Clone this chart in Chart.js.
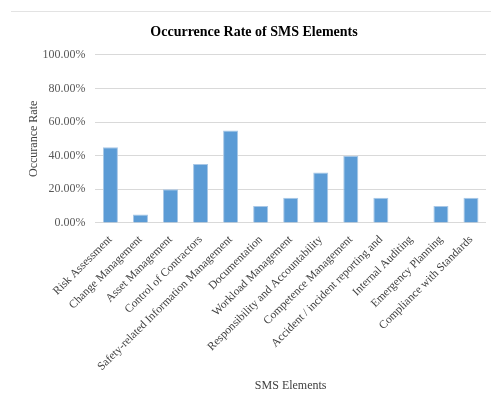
<!DOCTYPE html>
<html lang="en">
<head>
  <meta charset="UTF-8">
  <title>Occurrence Rate of SMS Elements</title>
  <script src="https://cdn.jsdelivr.net/npm/chart.js"></script>
  <style>
    body {
      margin: 0;
      padding: 0;
      background: #fff;
    }
    .wrap {
      position: relative;
      width: 491px;
      height: 397px;
    }
    /* faint rule across the top of the frame */
    .top-rule {
      position: absolute;
      top: 11px;
      left: 11px;
      width: 480px;
      height: 1px;
      background: #e3e3e3;
    }
    #smsChart {
      position: absolute;
      top: 0;
      left: 0;
    }
  </style>
</head>
<body>
  <div class="wrap">
    <div class="top-rule"></div>
    <canvas id="smsChart" width="491" height="397"></canvas>
  </div>

  <script>
    const elements = [
      'Risk Assessment',
      'Change Management',
      'Asset Management',
      'Control of Contractors',
      'Safety-related Information Management',
      'Documentation',
      'Workload Management',
      'Responsibility and Accountability',
      'Competence Management',
      'Accident / incident reporting and',
      'Internal Auditing',
      'Emergency Planning',
      'Compliance with Standards'
    ];
    // occurrence rate in percent
    const rates = [45, 5, 20, 35, 55, 10, 15, 30, 40, 15, 0, 10, 15];
    const yTicks = [0, 20, 40, 60, 80, 100];

    const serif = 'Liberation Serif, Times New Roman, serif';

    const ctx = document.getElementById('smsChart').getContext('2d');
    new Chart(ctx, {
      type: 'bar',
      data: {
        labels: elements,
        datasets: [{
          label: 'Occurance Rate',
          data: rates,
          backgroundColor: '#5b9bd5',
          borderColor: '#a8c7e6',
          borderWidth: 1,
          categoryPercentage: 1,
          barPercentage: 0.5
        }]
      },
      options: {
        responsive: false,
        animation: false,
        layout: {
          padding: { left: 22, right: 5, top: 0, bottom: 4 }
        },
        plugins: {
          legend: { display: false },
          tooltip: { enabled: false },
          title: {
            display: true,
            text: 'Occurrence Rate of SMS Elements',
            color: '#000',
            font: { family: serif, size: 14, weight: 'bold' },
            padding: { top: 24, bottom: 14 }
          }
        },
        scales: {
          x: {
            // the rotated first label reserves more room on the left than it uses
            afterFit: scale => {
              scale.paddingLeft = Math.max(0, (scale.paddingLeft || 0) - 20);
            },
            grid: { display: false },
            border: { display: false },
            ticks: {
              color: '#404040',
              font: { family: serif, size: 11.5 },
              minRotation: 45,
              maxRotation: 45,
              autoSkip: false,
              padding: 2
            },
            title: {
              display: true,
              text: 'SMS Elements',
              color: '#404040',
              font: { family: serif, size: 12 },
              padding: { top: 3, bottom: 0 }
            }
          },
          y: {
            min: 0,
            max: 100,
            afterBuildTicks: axis => {
              axis.ticks = yTicks.map(v => ({ value: v }));
            },
            // tighten the gap between the axis title and the tick labels
            afterFit: scale => {
              scale.width -= 10;
            },
            grid: {
              color: '#d9d9d9',
              drawTicks: false
            },
            border: { display: false },
            ticks: {
              color: '#595959',
              font: { family: serif, size: 12 },
              padding: 10,
              callback: v => v.toFixed(2) + '%'
            },
            title: {
              display: true,
              text: 'Occurance Rate',
              color: '#404040',
              font: { family: serif, size: 12 },
              padding: { top: 5, bottom: 1 }
            }
          }
        }
      }
    });
  </script>
</body>
</html>
